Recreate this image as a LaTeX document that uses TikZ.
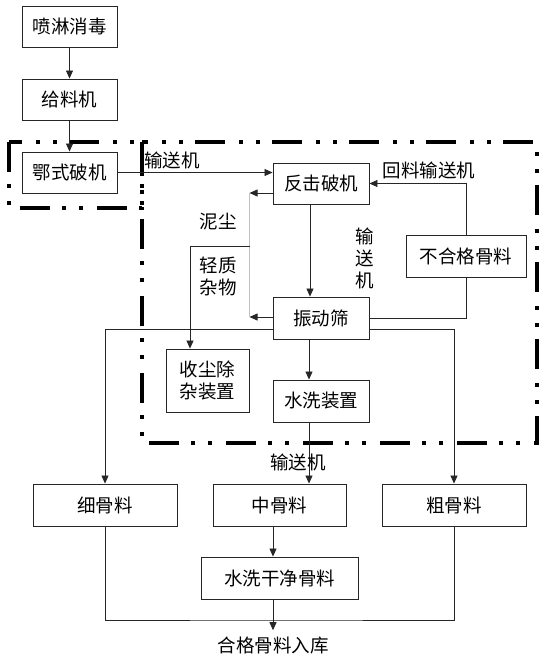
\documentclass[tikz,border=0pt]{standalone}
\usepackage{fontspec}
\newfontfamily\cjk{Noto Sans CJK SC}
\usetikzlibrary{arrows.meta,calc}

\begin{document}
\begin{tikzpicture}[x=1pt, y=-1pt,
    box/.style={rectangle, draw=black!85, line width=0.9pt, minimum width=#1, minimum height=41pt, inner sep=1pt, font=\cjk\fontsize{18.5}{22}\selectfont, align=center},
    box/.default={96pt},
    lbl/.style={font=\cjk\fontsize{18.5}{22}\selectfont, inner sep=0pt, align=center},
    arr/.style={-{Triangle[length=8pt,width=7pt]}, line width=0.8pt, black!85},
    ln/.style={line width=0.8pt, black!85},
    zone/.style={line width=3.5pt, line cap=butt, dash pattern=on 30pt off 12pt on 4pt off 13pt on 4pt off 14pt},
]
\useasboundingbox (0,0) rectangle (555,659);

% Crushing zones
\draw[zone] (9,142) rectangle (142,208);
\draw[zone] (142,142) rectangle (537,443);

% Feed line
\node[box=95pt] (spray) at (69.5,26.5) {喷淋消毒};
\node[box=95pt] (feeder) at (69.5,99.5) {给料机};
\node[box=95pt] (jaw) at (69.5,172.5) {鄂式破机};
\draw[arr] (spray) -- (feeder);
\draw[arr] (feeder) -- (jaw);

% Crushing and screening
\node[box] (impact) at (321,183.5) {反击破机};
\node[box=120pt, minimum height=42pt] (reject) at (466,256) {不合格骨料};
\node[box, minimum height=42pt] (screen) at (321,318) {振动筛};
\node[box, minimum height=42pt] (washer) at (321,401) {水洗装置};
\node[box=83pt, minimum height=63pt] (dust) at (207.5,380.5) {收尘除\\杂装置};

\draw[arr] (jaw.east) -- (jaw.east -| impact.west);
\node[lbl] (conv1) at (172,160) {输送机};
\draw[arr] ([xshift=-11pt]impact.south) -- ([xshift=-11pt]screen.north);
\node[lbl] (conv2) at (365,258) {输\\送\\机};
\draw[arr] (reject.north) |- (impact.east);
\draw[ln] (screen.east) -| (reject.south);
\node[lbl] (back) at (429,170) {回料输送机};

% Dust and light impurities
\draw[arr] ([yshift=-9.5pt]impact.west) -- ++(-23,0) coordinate (d1);
\draw[arr] ([yshift=1pt]screen.west) -- ++(-23,0) coordinate (d2);
\draw[black!25, line width=0.6pt] (d1) -- (d2);
\coordinate (d3) at (250,246);
\draw[arr] (d3) -| ([xshift=-17.5pt]dust.north);
\node[lbl] (mud) at (218,222) {泥尘};
\node[lbl] (light) at (218,276) {轻质\\杂物};

% Aggregates
\node[box=144pt, minimum height=42pt] (fine) at (105,505) {细骨料};
\node[box=133pt, minimum height=42pt] (mid) at (279.5,505) {中骨料};
\node[box=144pt, minimum height=42pt] (coarse) at (454,505) {粗骨料};
\node[box=157pt, minimum height=42pt] (clean) at (279.5,578) {水洗干净骨料};
\node[lbl] (store) at (273,645) {合格骨料入库};

\draw[arr] ([yshift=-11pt]screen.east) -| (coarse.north);
\draw[arr] ([yshift=-11pt]screen.west) -| (fine.north);
\draw[arr] ([xshift=-12pt]screen.south) -- ([xshift=-12pt]washer.north);
\draw[arr] ([xshift=-12pt]washer.south) -- ([xshift=-12pt]washer.south |- mid.north);
\node[lbl] (conv3) at (298,462) {输送机};
\draw[arr] ([xshift=-6.5pt]mid.south) -- ([xshift=-6.5pt]clean.north);
\coordinate (join) at (273,620);
\draw[ln] (fine.south) |- (join) -| (coarse.south);
\draw[arr] ([xshift=-6.5pt]clean.south) -- ([xshift=-6.5pt,yshift=6pt]clean.south |- store.north);

\end{tikzpicture}
\end{document}
